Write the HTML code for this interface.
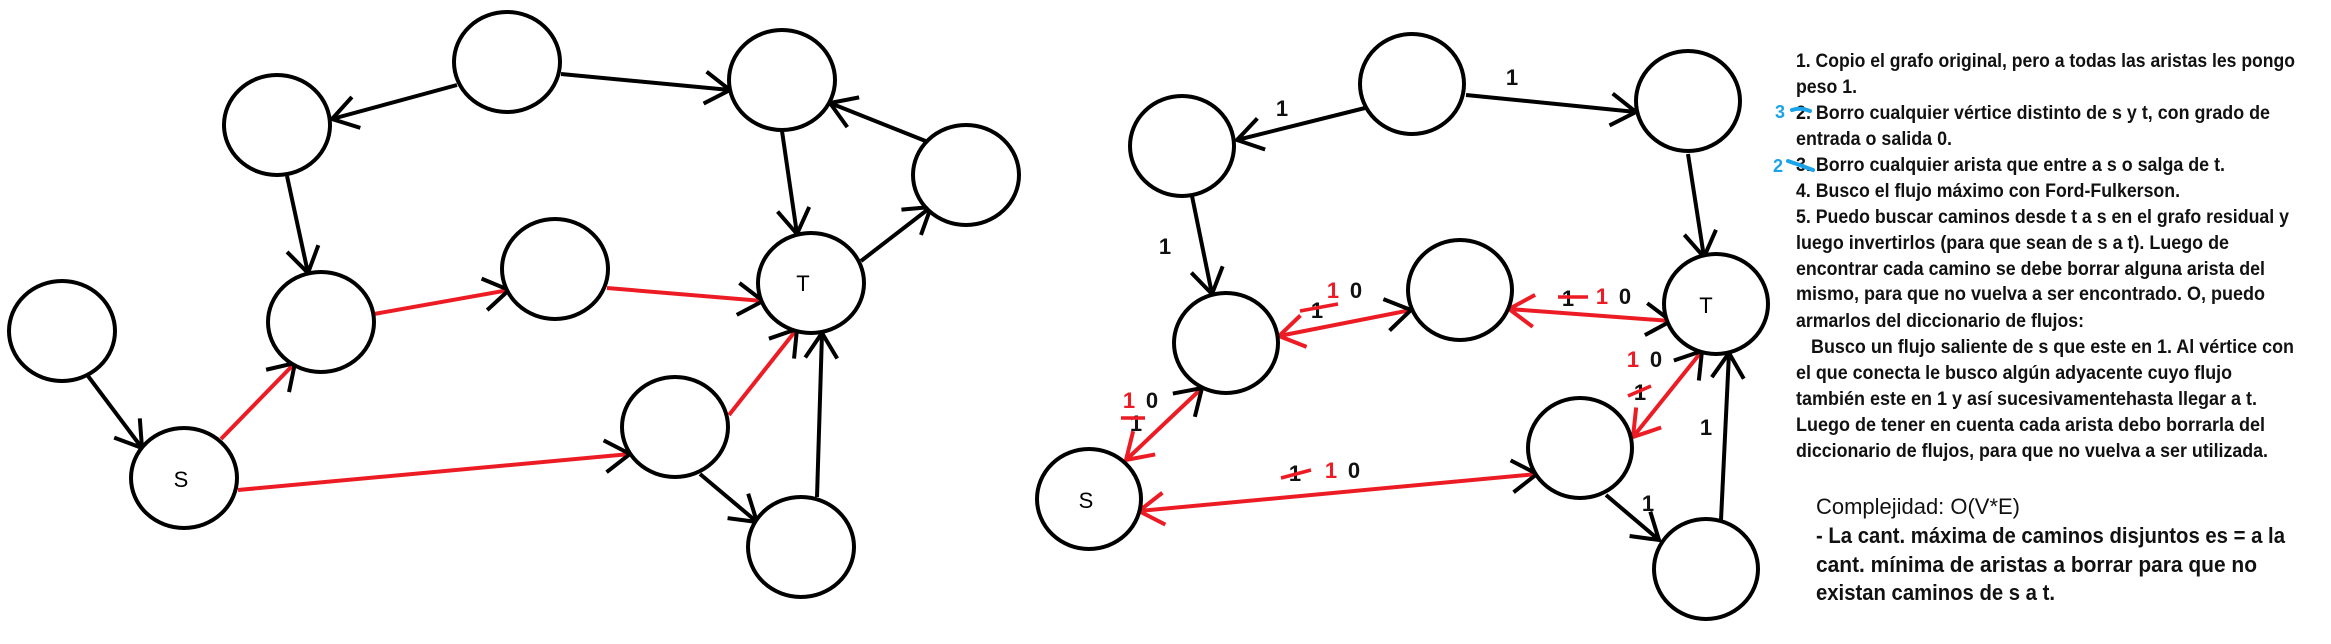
<!DOCTYPE html>
<html><head><meta charset="utf-8"><style>
html,body{margin:0;padding:0;background:#fff;}
svg{display:block;}
.t{font-family:"Liberation Sans",sans-serif;font-weight:bold;font-size:19px;fill:#111;}
.c{font-family:"Liberation Sans",sans-serif;font-size:22px;fill:#111;}
.n{font-family:"Liberation Sans",sans-serif;font-weight:bold;font-size:22px;fill:#111;}
.r{font-family:"Liberation Sans",sans-serif;font-weight:bold;font-size:22px;fill:#ed1c24;}
.lbl{font-family:"Liberation Sans",sans-serif;font-size:22px;fill:#000;}
</style></head><body>
<svg width="2331" height="644" viewBox="0 0 2331 644" xmlns="http://www.w3.org/2000/svg">
<defs>
<marker id="ab" markerUnits="userSpaceOnUse" viewBox="-35 -25 45 50" refX="0" refY="0" markerWidth="45" markerHeight="50" orient="auto-start-reverse">
<path d="M-25,-16 L0,0 L-25,16" fill="none" stroke="#000" stroke-width="4"/></marker>
<marker id="ar" markerUnits="userSpaceOnUse" viewBox="-35 -25 45 50" refX="0" refY="0" markerWidth="45" markerHeight="50" orient="auto-start-reverse">
<path d="M-25,-16 L0,0 L-25,16" fill="none" stroke="#ed1c24" stroke-width="4"/></marker>
</defs>
<g fill="none" stroke-width="4">
<g stroke="#000" marker-end="url(#ab)">
<line x1="457" y1="85" x2="332" y2="119"/>
<line x1="561" y1="74" x2="730" y2="90"/>
<line x1="782" y1="131" x2="797" y2="234"/>
<line x1="928" y1="142" x2="830" y2="103"/>
<line x1="861" y1="261" x2="931" y2="207"/>
<line x1="287" y1="176" x2="308" y2="273"/>
<line x1="88" y1="376" x2="142" y2="448"/>
<line x1="700" y1="474" x2="757" y2="522"/>
<line x1="817" y1="497" x2="822" y2="333"/>
</g>
<g stroke="#ed1c24">
<line x1="221" y1="439" x2="295" y2="363"/>
<line x1="374" y1="314" x2="509" y2="290"/>
<line x1="607" y1="288" x2="763" y2="301"/>
<line x1="238" y1="490" x2="630" y2="454"/>
<line x1="729" y1="415" x2="797" y2="329"/>
</g>
<g stroke="#000" stroke-width="0.01" marker-end="url(#ab)">
<line x1="221" y1="439" x2="295" y2="363"/>
<line x1="374" y1="314" x2="509" y2="290"/>
<line x1="607" y1="288" x2="763" y2="301"/>
<line x1="238" y1="490" x2="630" y2="454"/>
<line x1="729" y1="415" x2="797" y2="329"/>
</g>
<g stroke="#000" marker-end="url(#ab)">
<line x1="1365" y1="108" x2="1237" y2="140"/>
<line x1="1466" y1="95" x2="1636" y2="112"/>
<line x1="1688" y1="154" x2="1704" y2="257"/>
<line x1="1192" y1="196" x2="1212" y2="294"/>
<line x1="1606" y1="495" x2="1659" y2="540"/>
<line x1="1721" y1="520" x2="1729" y2="353"/>
</g>
<g stroke="#ed1c24" marker-end="url(#ar)">
<line x1="1411" y1="310" x2="1279" y2="336"/>
<line x1="1671" y1="321" x2="1509" y2="309"/>
<line x1="1202" y1="388" x2="1126" y2="460"/>
<line x1="1702" y1="351" x2="1633" y2="437"/>
<line x1="1537" y1="474" x2="1139" y2="511"/>
</g>
<g stroke="#000" stroke-width="0.01" marker-start="url(#ab)">
<line x1="1411" y1="310" x2="1279" y2="336"/>
<line x1="1671" y1="321" x2="1509" y2="309"/>
<line x1="1202" y1="388" x2="1126" y2="460"/>
<line x1="1702" y1="351" x2="1633" y2="437"/>
<line x1="1537" y1="474" x2="1139" y2="511"/>
</g>
<g stroke="#000" fill="#fff">
<ellipse cx="507" cy="62" rx="53" ry="50"/>
<ellipse cx="277" cy="125" rx="53" ry="50"/>
<ellipse cx="782" cy="80" rx="53" ry="50"/>
<ellipse cx="966" cy="175" rx="53" ry="50"/>
<ellipse cx="555" cy="269" rx="53" ry="50"/>
<ellipse cx="811" cy="283" rx="53" ry="50"/>
<ellipse cx="321" cy="322" rx="53" ry="50"/>
<ellipse cx="62" cy="331" rx="53" ry="50"/>
<ellipse cx="184" cy="478" rx="53" ry="50"/>
<ellipse cx="675" cy="427" rx="53" ry="50"/>
<ellipse cx="801" cy="547" rx="53" ry="50"/>
<ellipse cx="1412" cy="84" rx="52" ry="50"/>
<ellipse cx="1182" cy="146" rx="52" ry="50"/>
<ellipse cx="1688" cy="101" rx="52" ry="50"/>
<ellipse cx="1460" cy="290" rx="52" ry="50"/>
<ellipse cx="1716" cy="304" rx="52" ry="50"/>
<ellipse cx="1226" cy="343" rx="52" ry="50"/>
<ellipse cx="1089" cy="499" rx="52" ry="50"/>
<ellipse cx="1580" cy="448" rx="52" ry="50"/>
<ellipse cx="1706" cy="569" rx="52" ry="50"/>
</g>
</g>
<text class="lbl" x="181" y="487" text-anchor="middle">S</text>
<text class="lbl" x="803" y="291" text-anchor="middle">T</text>
<text class="lbl" x="1086" y="508" text-anchor="middle">S</text>
<text class="lbl" x="1706" y="313" text-anchor="middle">T</text>
<g class="n" text-anchor="middle">
<text x="1282" y="116">1</text>
<text x="1512" y="85">1</text>
<text x="1165" y="254">1</text>
<text x="1706" y="435">1</text>
<text x="1648" y="511">1</text>
<text x="1356" y="298">0</text>
<text x="1317" y="318">1</text>
<text x="1625" y="304">0</text>
<text x="1568" y="306">1</text>
<text x="1152" y="408">0</text>
<text x="1136" y="431">1</text>
<text x="1656" y="367">0</text>
<text x="1640" y="400">1</text>
<text x="1295" y="481">1</text>
<text x="1354" y="478">0</text>
</g>
<g class="r" text-anchor="middle">
<text x="1333" y="298">1</text>
<text x="1602" y="304">1</text>
<text x="1129" y="408">1</text>
<text x="1633" y="367">1</text>
<text x="1331" y="478">1</text>
</g>
<g stroke="#ed1c24" stroke-width="3.5">
<line x1="1300" y1="311" x2="1338" y2="304"/>
<line x1="1558" y1="297" x2="1588" y2="297"/>
<line x1="1121" y1="418" x2="1145" y2="418"/>
<line x1="1628" y1="396" x2="1651" y2="386"/>
<line x1="1281" y1="478" x2="1311" y2="470"/>
</g>
<g class="t">
<text x="1796" y="67" textLength="499" lengthAdjust="spacingAndGlyphs">1. Copio el grafo original, pero a todas las aristas les pongo</text>
<text x="1796" y="93" textLength="61" lengthAdjust="spacingAndGlyphs">peso 1.</text>
<text x="1796" y="119" textLength="474" lengthAdjust="spacingAndGlyphs">2. Borro cualquier vértice distinto de s y t, con grado de</text>
<text x="1796" y="145" textLength="156" lengthAdjust="spacingAndGlyphs">entrada o salida 0.</text>
<text x="1796" y="171" textLength="429" lengthAdjust="spacingAndGlyphs">3. Borro cualquier arista que entre a s o salga de t.</text>
<text x="1796" y="197" textLength="384" lengthAdjust="spacingAndGlyphs">4. Busco el flujo máximo con Ford-Fulkerson.</text>
<text x="1796" y="223" textLength="493" lengthAdjust="spacingAndGlyphs">5. Puedo buscar caminos desde t a s en el grafo residual y</text>
<text x="1796" y="249" textLength="433" lengthAdjust="spacingAndGlyphs">luego invertirlos (para que sean de s a t). Luego de</text>
<text x="1796" y="275" textLength="469" lengthAdjust="spacingAndGlyphs">encontrar cada camino se debe borrar alguna arista del</text>
<text x="1796" y="300" textLength="469" lengthAdjust="spacingAndGlyphs">mismo, para que no vuelva a ser encontrado. O, puedo</text>
<text x="1796" y="327" textLength="288" lengthAdjust="spacingAndGlyphs">armarlos del diccionario de flujos:</text>
<text x="1811" y="353" textLength="483" lengthAdjust="spacingAndGlyphs">Busco un flujo saliente de s que este en 1. Al vértice con</text>
<text x="1796" y="379" textLength="436" lengthAdjust="spacingAndGlyphs">el que conecta le busco algún adyacente cuyo flujo</text>
<text x="1796" y="405" textLength="461" lengthAdjust="spacingAndGlyphs">también este en 1 y así sucesivamentehasta llegar a t.</text>
<text x="1796" y="431" textLength="469" lengthAdjust="spacingAndGlyphs">Luego de tener en cuenta cada arista debo borrarla del</text>
<text x="1796" y="457" textLength="472" lengthAdjust="spacingAndGlyphs">diccionario de flujos, para que no vuelva a ser utilizada.</text>
</g>
<text class="c" x="1816" y="514" textLength="204" lengthAdjust="spacingAndGlyphs">Complejidad: O(V*E)</text>
<g class="c" font-weight="bold">
<text x="1816" y="543" textLength="469" lengthAdjust="spacingAndGlyphs">- La cant. máxima de caminos disjuntos es = a la</text>
<text x="1816" y="572" textLength="441" lengthAdjust="spacingAndGlyphs">cant. mínima de aristas a borrar para que no</text>
<text x="1816" y="600" textLength="239" lengthAdjust="spacingAndGlyphs">existan caminos de s a t.</text>
</g>
<g font-family="Liberation Sans, sans-serif" font-size="18" font-weight="bold" fill="#1aa3e8">
<text x="1775" y="118">3</text>
<text x="1773" y="172">2</text>
</g>
<g stroke="#1aa3e8" stroke-width="4" fill="none" stroke-linecap="round">
<path d="M1792,110 Q1800,107 1810,111"/>
<path d="M1788,161 Q1800,165 1813,170"/>
</g>
</svg>
</body></html>
